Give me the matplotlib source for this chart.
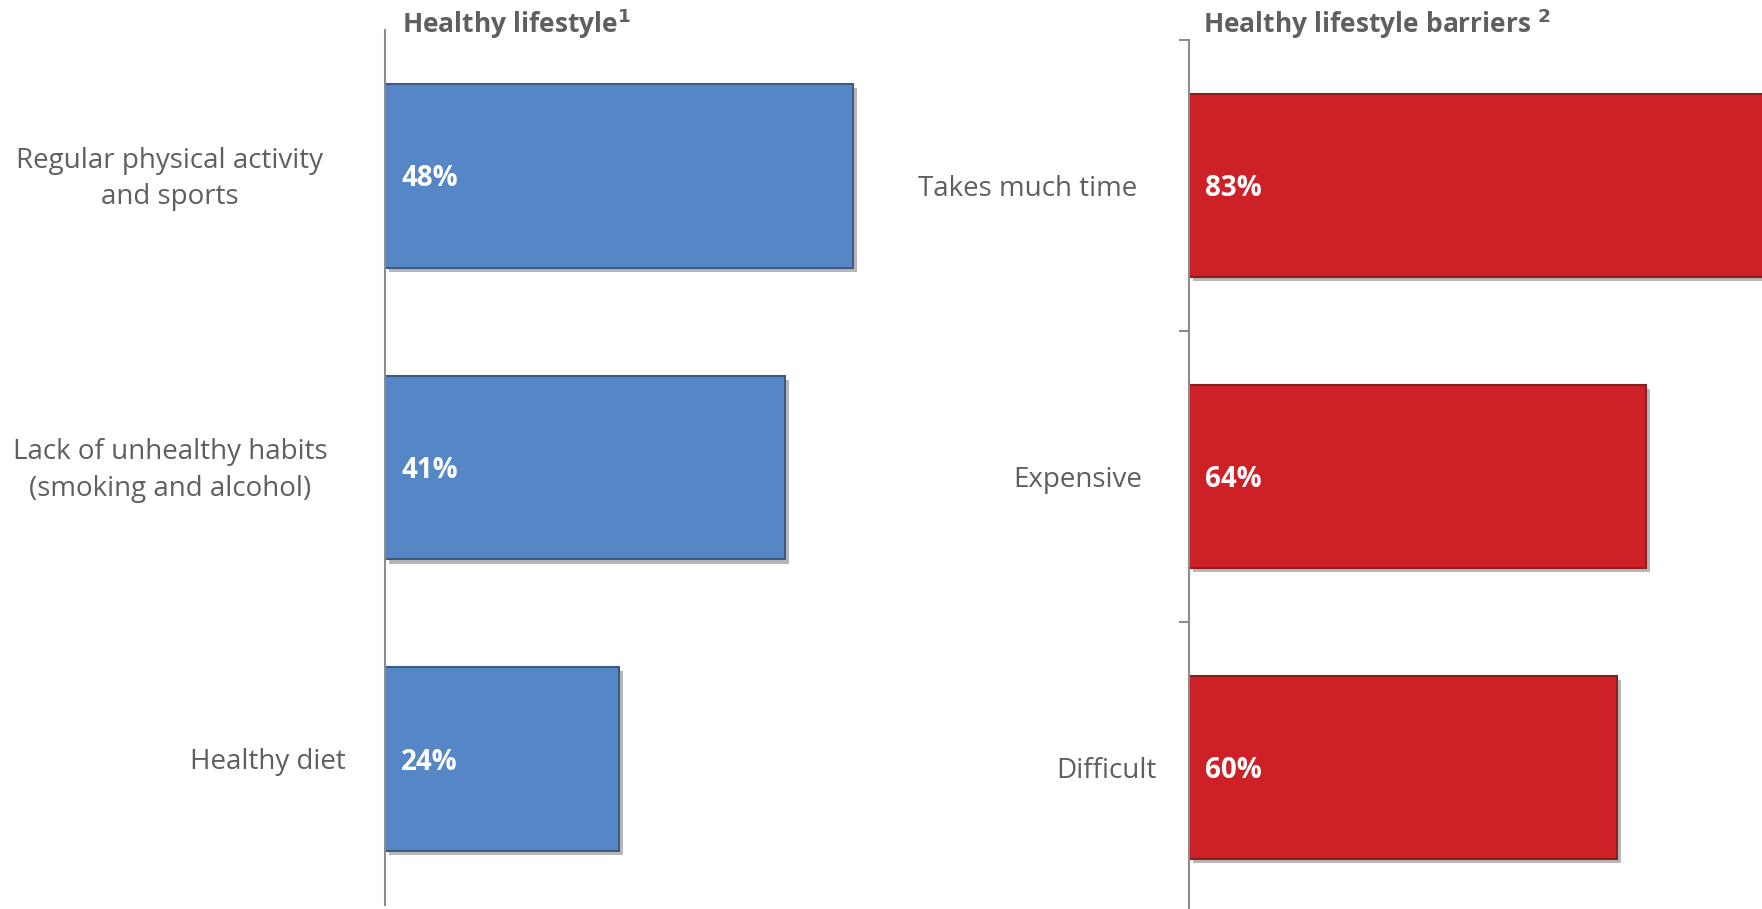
import matplotlib.pyplot as plt
import matplotlib.patheffects as pe
from matplotlib.transforms import blended_transform_factory

# data
lifestyle_labels = ["Regular physical activity\nand sports",
                    "Lack of unhealthy habits\n(smoking and alcohol)",
                    "Healthy diet"]
lifestyle_values = [48, 41, 24]
barrier_labels = ["Takes much time", "Expensive", "Difficult"]
barrier_values = [83, 64, 60]

W, H = 1762, 909
plt.rcParams['font.family'] = ['Open Sans', 'DejaVu Sans']
fig = plt.figure(figsize=(W / 100, H / 100), dpi=100)

grey_txt = '#5f5f5f'
spine_col = '#8c8c8c'


def panel(rect, labels, values, xmax, color, edge, title,
          label_x, label_ha, title_x, show_ticks):
    ax = fig.add_axes(rect)
    pos = range(len(values))
    bars = ax.barh(pos, values, height=0.63, color=color, edgecolor=edge,
                   linewidth=1.5)
    for b in bars:
        b.set_path_effects([pe.SimplePatchShadow(offset=(3, -3), shadow_rgbFace='#333333', alpha=0.35),
                            pe.Normal()])
    ax.set_xlim(0, xmax)
    ax.set_ylim(len(values) - 0.5, -0.5)
    for s in ['top', 'right', 'bottom']:
        ax.spines[s].set_visible(False)
    ax.spines['left'].set_color(spine_col)
    ax.spines['left'].set_linewidth(1.5)
    ax.set_xticks([])
    if show_ticks:
        ax.set_yticks([i - 0.5 for i in range(len(values) + 1)])
        ax.set_yticklabels([])
        ax.tick_params(axis='y', length=7, width=1.5, color=spine_col, direction='out')
    else:
        ax.set_yticks([])

    tr = blended_transform_factory(fig.transFigure, ax.transData)
    for i, (lab, v) in enumerate(zip(labels, values)):
        ax.annotate(lab, xy=(label_x[i] / W, i), xycoords=tr, xytext=(0, -3),
                    textcoords='offset pixels', ha=label_ha[i], va='center',
                    multialignment='center', fontsize=20, color=grey_txt, linespacing=1.4)
        ax.annotate(f"{v}%", xy=(0, i), xytext=(16, -3), textcoords='offset pixels',
                    ha='left', va='center', fontsize=20, fontweight='bold', color='white')

    fig.text(title_x / W, 1 - 24 / H, title, ha='left', va='center', fontsize=19,
             fontweight='bold', color=grey_txt)
    return ax


panel([385 / W, (H - 905) / H, 487.5 / W, 875 / H], lifestyle_labels, lifestyle_values, 50,
      '#5587c6', '#3d5a80', r"Healthy lifestyle$^{\mathbf{1}}$",
      [170, 170, 346], ['center', 'center', 'right'], 402, False)

panel([1189 / W, (H - 913) / H, 573 / W, 873 / H], barrier_labels, barrier_values, 80.3,
      '#cd2027', '#8a1f1f', r"Healthy lifestyle barriers $^{\mathbf{2}}$",
      [1137, 1142, 1157], ['right', 'right', 'right'], 1203, True)

fig.savefig('out.png', dpi=100)
